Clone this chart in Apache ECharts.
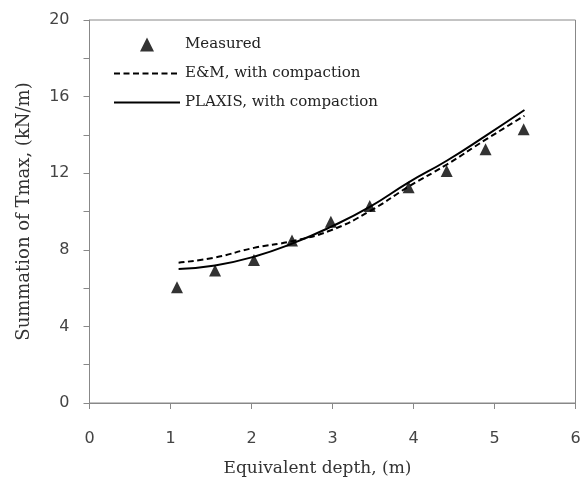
<!DOCTYPE html>
<html>
<head>
<meta charset="utf-8">
<script src="https://cdn.jsdelivr.net/npm/echarts@6/dist/echarts.min.js"></script>
<style>
  html, body { margin: 0; padding: 0; background: #fff; }
  #chart { width: 584px; height: 482px; }
</style>
</head>
<body>
<div id="chart"></div>
<script>
// ── Data ────────────────────────────────────────────────────────────────
const measuredX = [1.08, 1.55, 2.03, 2.50, 2.98, 3.46, 3.94, 4.41, 4.89, 5.36];
const measuredY = [6.05, 6.92, 7.47, 8.48, 9.47, 10.29, 11.27, 12.12, 13.25, 14.29];

const emX = [1.1, 1.55, 2.03, 2.5, 2.98, 3.46, 3.94, 4.41, 4.89, 5.37];
const emY = [7.33, 7.6, 8.1, 8.45, 9.02, 10.02, 11.3, 12.45, 13.75, 15.0];

const plaxisX = [1.1, 1.55, 2.03, 2.5, 2.98, 3.46, 3.94, 4.41, 4.89, 5.37];
const plaxisY = [7.0, 7.18, 7.64, 8.32, 9.2, 10.24, 11.52, 12.65, 13.95, 15.3];

const xTicks = [0, 1, 2, 3, 4, 5, 6];
const yLabelStep = 4;

const pairs = (xs, ys) => xs.map((x, i) => [x, ys[i]]);

const serif = '"DejaVu Serif", "Liberation Serif", serif';
const sans = '"DejaVu Sans", Arial, sans-serif';
const TRI = 'path://M5,0 L10,10 L0,10 Z';

const chart = echarts.init(document.getElementById('chart'));

chart.setOption({
  animation: false,
  backgroundColor: '#fff',
  grid: {
    left: 89.5, right: 8.5, top: 20, bottom: 78.5,
    show: true, borderColor: '#888', borderWidth: 1, backgroundColor: 'transparent'
  },
  legend: {
    orient: 'vertical',
    left: 108, top: 32,
    itemWidth: 66, itemHeight: 14, itemGap: 14,
    symbolKeepAspect: true,
    textStyle: { fontFamily: serif, fontSize: 15, color: '#222' },
    data: [
      { name: 'Measured', icon: TRI, itemStyle: { color: '#000' } },
      { name: 'E&M, with compaction', itemStyle: { color: 'transparent', borderWidth: 0 } },
      { name: 'PLAXIS, with compaction', itemStyle: { color: 'transparent', borderWidth: 0 } }
    ]
  },
  xAxis: {
    type: 'value',
    min: xTicks[0], max: xTicks[xTicks.length - 1], interval: 1,
    name: 'Equivalent depth, (m)',
    nameLocation: 'middle', nameGap: 57,
    nameTextStyle: { fontFamily: serif, fontSize: 17, color: '#333', padding: [0, 30, 0, 0] },
    axisLine: { show: true, lineStyle: { color: '#888', width: 1 } },
    axisTick: { show: true, length: 6, lineStyle: { color: '#888' } },
    axisLabel: { fontFamily: sans, fontSize: 16, color: '#444', margin: 28 },
    splitLine: { show: false }
  },
  yAxis: {
    type: 'value',
    min: 0, max: 20, interval: 2,
    name: 'Summation of Tmax, (kN/m)',
    nameLocation: 'middle', nameGap: 56,
    nameTextStyle: { fontFamily: serif, fontSize: 18, color: '#333' },
    axisLine: { show: true, lineStyle: { color: '#888', width: 1 } },
    axisTick: { show: true, length: 6, lineStyle: { color: '#888' } },
    axisLabel: {
      fontFamily: sans, fontSize: 16, color: '#444', margin: 20,
      formatter: v => (v % yLabelStep === 0 ? String(v) : '')
    },
    splitLine: { show: false }
  },
  series: [
    {
      name: 'Measured',
      type: 'scatter',
      symbol: TRI,
      symbolSize: [12, 12],
      itemStyle: { color: '#000' },
      data: pairs(measuredX, measuredY),
      z: 5
    },
    {
      name: 'E&M, with compaction',
      type: 'line',
      smooth: true,
      showSymbol: false,
      symbol: 'none',
      lineStyle: { color: '#000', width: 2, type: [6, 3.5] },
      itemStyle: { color: '#000' },
      data: pairs(emX, emY)
    },
    {
      name: 'PLAXIS, with compaction',
      type: 'line',
      smooth: true,
      showSymbol: false,
      symbol: 'none',
      lineStyle: { color: '#000', width: 2 },
      itemStyle: { color: '#000' },
      data: pairs(plaxisX, plaxisY)
    }
  ]
});
</script>
</body>
</html>
